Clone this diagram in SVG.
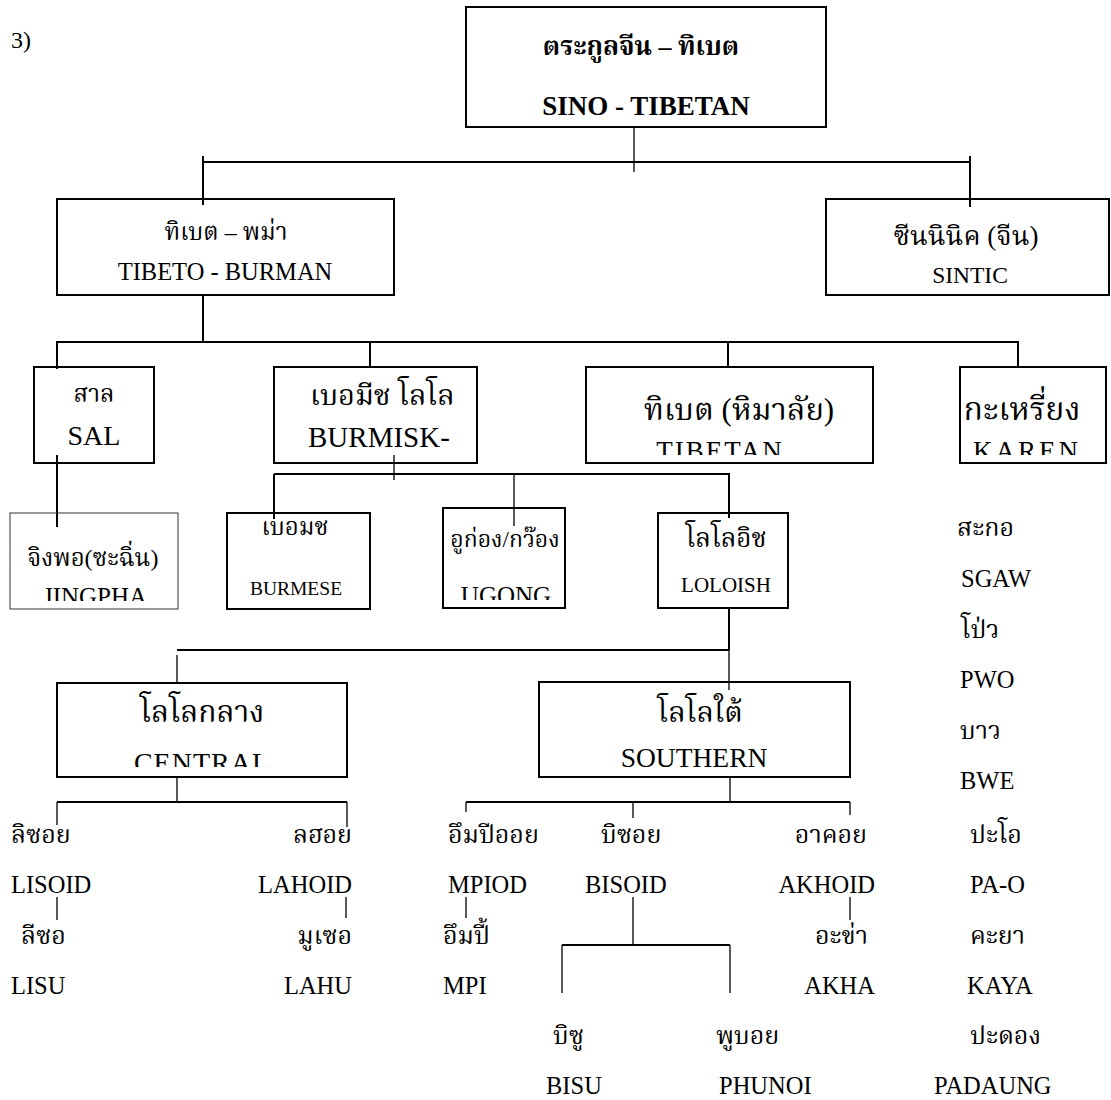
<svg xmlns="http://www.w3.org/2000/svg" width="1111" height="1100" viewBox="0 0 1111 1100">
<style>
.bx{fill:none;stroke:#000;stroke-width:2}
.bt{fill:none;stroke:#333;stroke-width:1}
.ln{stroke:#000;stroke-width:2;fill:none}
.lt{stroke:#000;stroke-width:1.3;fill:none}
text{fill:#000}
.en{font-family:"Liberation Serif","DejaVu Serif",serif}
.th{font-family:"Liberation Serif","Noto Serif Thai","Noto Sans Thai","DejaVu Serif",serif}
.c{text-anchor:middle}
.e{text-anchor:end}
.b{font-weight:bold}
</style>
<defs>
<clipPath id="cT"><rect x="580" y="420" width="300" height="35"/></clipPath>
<clipPath id="cK"><rect x="955" y="420" width="160" height="35"/></clipPath>
<clipPath id="cJ"><rect x="10" y="570" width="170" height="31"/></clipPath>
<clipPath id="cU"><rect x="440" y="560" width="130" height="40"/></clipPath>
<clipPath id="cC"><rect x="55" y="730" width="295" height="37"/></clipPath>
</defs>
<text class="en" x="11" y="48" font-size="24">3)</text>
<g id="connectors">
<line class="lt" x1="634" y1="127" x2="634" y2="172"/>
<line class="ln" x1="203" y1="162" x2="970" y2="162"/>
<line class="ln" x1="203" y1="156" x2="203" y2="205"/>
<line class="ln" x1="970" y1="156" x2="970" y2="207"/>
<line class="ln" x1="203" y1="295" x2="203" y2="342"/>
<line class="ln" x1="57" y1="342" x2="1018" y2="342"/>
<line class="ln" x1="57" y1="341" x2="57" y2="369"/>
<line class="ln" x1="370" y1="342" x2="370" y2="367"/>
<line class="ln" x1="728" y1="342" x2="728" y2="367"/>
<line class="ln" x1="1018" y1="341" x2="1018" y2="367"/>
<line class="ln" x1="57" y1="455" x2="57" y2="527"/>
<line class="lt" x1="394" y1="455" x2="394" y2="480"/>
<line class="ln" x1="274" y1="474" x2="729" y2="474"/>
<line class="ln" x1="274" y1="474" x2="274" y2="519"/>
<line class="lt" x1="514" y1="474" x2="514" y2="526"/>
<line class="ln" x1="729" y1="473" x2="729" y2="518"/>
<line class="ln" x1="729" y1="608" x2="729" y2="650"/>
<line class="ln" x1="177" y1="650" x2="729" y2="650"/>
<line class="lt" x1="177" y1="655" x2="177" y2="683"/>
<line class="lt" x1="729" y1="650" x2="729" y2="690"/>
<line class="lt" x1="177" y1="777" x2="177" y2="802"/>
<line class="ln" x1="57" y1="802" x2="347" y2="802"/>
<line class="lt" x1="57" y1="802" x2="57" y2="825"/>
<line class="lt" x1="347" y1="802" x2="347" y2="827"/>
<line class="lt" x1="730" y1="777" x2="730" y2="802"/>
<line class="ln" x1="466" y1="802" x2="850" y2="802"/>
<line class="lt" x1="466" y1="802" x2="466" y2="812"/>
<line class="lt" x1="633" y1="802" x2="633" y2="818"/>
<line class="lt" x1="850" y1="802" x2="850" y2="815"/>
<line class="lt" x1="57" y1="897" x2="57" y2="920"/>
<line class="lt" x1="346" y1="897" x2="346" y2="918"/>
<line class="lt" x1="466" y1="897" x2="466" y2="918"/>
<line class="lt" x1="850" y1="897" x2="850" y2="920"/>
<line class="lt" x1="633" y1="897" x2="633" y2="945"/>
<line class="ln" x1="562" y1="945" x2="730" y2="945"/>
<line class="lt" x1="562" y1="945" x2="562" y2="993"/>
<line class="lt" x1="730" y1="945" x2="730" y2="993"/>
</g>
<g id="n-root">
<rect class="bx" x="466" y="7" width="360" height="120"/>
<text class="th b c" x="641" y="55" font-size="26">ตระกูลจีน – ทิเบต</text>
<text class="en b c" x="646" y="115" font-size="27">SINO - TIBETAN</text>
</g>
<g id="n-tibetoburman">
<rect class="bx" x="57" y="199" width="337" height="96"/>
<text class="th c" x="226" y="240" font-size="24">ทิเบต – พม่า</text>
<text class="en c" x="225" y="280" font-size="24.5">TIBETO - BURMAN</text>
</g>
<g id="n-sintic">
<rect class="bx" x="826" y="199" width="283" height="96"/>
<text class="th c" x="966" y="245" font-size="27">ซีนนินิค (จีน)</text>
<text class="en c" x="970" y="283" font-size="23.5">SINTIC</text>
</g>
<g id="n-sal">
<rect class="bx" x="34" y="367" width="120" height="96"/>
<text class="th c" x="94" y="402" font-size="24">สาล</text>
<text class="en c" x="94" y="445" font-size="28">SAL</text>
</g>
<g id="n-burmisk">
<rect class="bx" x="274" y="367" width="203" height="96"/>
<text class="th" x="310" y="405" font-size="29">เบอมีช โลโล</text>
<text class="en" x="308" y="447" font-size="29">BURMISK-</text>
</g>
<g id="n-tibetan">
<rect class="bx" x="586" y="367" width="287" height="96"/>
<text class="th c" x="739" y="420" font-size="31">ทิเบต (หิมาลัย)</text>
<text class="en c" x="720" y="460" font-size="27" letter-spacing="2" clip-path="url(#cT)">TIBETAN</text>
</g>
<g id="n-karen">
<rect class="bx" x="960" y="367" width="146" height="96"/>
<text class="th c" x="1022" y="420" font-size="32">กะเหรี่ยง</text>
<text class="en c" x="1027" y="460" font-size="27" letter-spacing="3" clip-path="url(#cK)">KAREN</text>
</g>
<g id="n-jingpha">
<rect class="bt" x="10" y="513" width="168" height="96"/>
<text class="th c" x="93" y="566" font-size="24">จิงพอ(ซะฉิ่น)</text>
<text class="en c" x="95" y="605" font-size="25" clip-path="url(#cJ)">JINGPHA</text>
</g>
<g id="n-burmese">
<rect class="bx" x="227" y="513" width="143" height="96"/>
<text class="th c" x="295" y="535" font-size="24">เบอมช</text>
<text class="en c" x="296" y="595" font-size="19.5">BURMESE</text>
</g>
<g id="n-ugong">
<rect class="bx" x="443" y="508" width="122" height="100"/>
<text class="th c" x="505" y="547" font-size="23">อูก่อง/กว๊อง</text>
<text class="en c" x="506" y="604" font-size="25" clip-path="url(#cU)">UGONG</text>
</g>
<g id="n-loloish">
<rect class="bx" x="658" y="513" width="130" height="95"/>
<text class="th c" x="726" y="547" font-size="26">โลโลอิช</text>
<text class="en c" x="726" y="592" font-size="21">LOLOISH</text>
</g>
<g id="n-central">
<rect class="bx" x="57" y="683" width="290" height="94"/>
<text class="th c" x="202" y="722" font-size="30">โลโลกลาง</text>
<text class="en c" x="202" y="772" font-size="28" letter-spacing="1" clip-path="url(#cC)">CENTRAL</text>
</g>
<g id="n-southern">
<rect class="bx" x="539" y="682" width="311" height="95"/>
<text class="th c" x="700" y="722" font-size="29">โลโลใต้</text>
<text class="en c" x="694" y="767" font-size="27.5">SOUTHERN</text>
</g>
<g id="leaf-labels" font-size="24.5">
<text class="th" x="11" y="843" font-size="25">ลิซอย</text>
<text class="en" x="11" y="893">LISOID</text>
<text class="th" x="21" y="944" font-size="25">ลีซอ</text>
<text class="en" x="11" y="994">LISU</text>
<text class="th e" x="352" y="843" font-size="25">ลฮอย</text>
<text class="en e" x="352" y="893">LAHOID</text>
<text class="th e" x="352" y="944" font-size="25">มูเซอ</text>
<text class="en e" x="352" y="994">LAHU</text>
<text class="th" x="448" y="843" font-size="25">อึมปีออย</text>
<text class="en" x="448" y="893">MPIOD</text>
<text class="th" x="443" y="944" font-size="25">อึมปี้</text>
<text class="en" x="443" y="994">MPI</text>
<text class="th" x="601" y="843" font-size="25">บิซอย</text>
<text class="en" x="585" y="893">BISOID</text>
<text class="th" x="553" y="1044" font-size="25">บิซู</text>
<text class="en" x="546" y="1094">BISU</text>
<text class="th" x="716" y="1044" font-size="25">พูบอย</text>
<text class="en" x="719" y="1094">PHUNOI</text>
<text class="th e" x="867" y="843" font-size="25">อาคอย</text>
<text class="en e" x="875" y="893">AKHOID</text>
<text class="th e" x="868" y="944" font-size="25">อะข่า</text>
<text class="en e" x="875" y="994">AKHA</text>
</g>
<g id="karen-list" font-size="24.5">
<text class="th" x="957" y="536" font-size="25">สะกอ</text>
<text class="en" x="961" y="587">SGAW</text>
<text class="th" x="961" y="638" font-size="25">โป่ว</text>
<text class="en" x="960" y="688">PWO</text>
<text class="th" x="960" y="739" font-size="25">บาว</text>
<text class="en" x="960" y="789">BWE</text>
<text class="th" x="970" y="843" font-size="25">ปะโอ</text>
<text class="en" x="970" y="893">PA-O</text>
<text class="th" x="970" y="944" font-size="25">คะยา</text>
<text class="en" x="967" y="994">KAYA</text>
<text class="th" x="970" y="1044" font-size="25">ปะดอง</text>
<text class="en" x="934" y="1094">PADAUNG</text>
</g>
</svg>
